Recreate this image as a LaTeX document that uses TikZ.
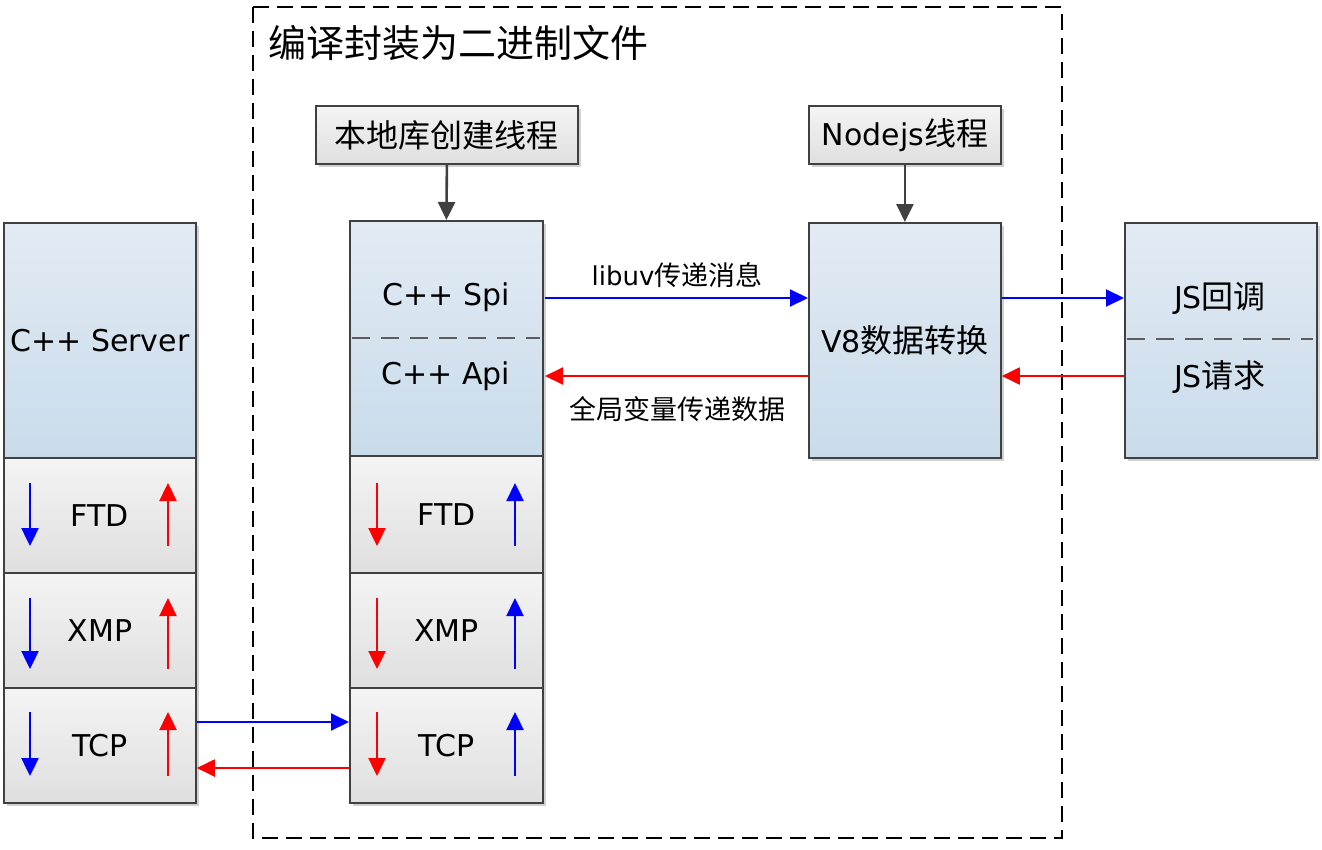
\documentclass[tikz,border=0pt]{standalone}
\usepackage{fontspec}
\setmainfont{DejaVu Sans}
\newfontfamily\cjk{Noto Sans CJK SC}
\newcommand\zh[2][32]{{\fontsize{#1}{#1}\cjk #2}}
\usetikzlibrary{arrows.meta,shadows}
\definecolor{bord}{HTML}{404040}
\definecolor{btop}{HTML}{E2EBF4}
\definecolor{bbot}{HTML}{C9DBEA}
\definecolor{gtop}{HTML}{F4F4F4}
\definecolor{gbot}{HTML}{DFDFDF}
\definecolor{aBlue}{HTML}{0000FF}
\definecolor{aRed}{HTML}{FF0000}
\tikzset{
  shad/.style={drop shadow={shadow xshift=3pt, shadow yshift=-3pt, opacity=0.18, fill=black}},
  bluebox/.style={draw=bord, line width=1.8pt, rectangle, inner sep=0pt, anchor=north west, top color=btop, bottom color=bbot, shad, font=\fontsize{30}{34}\selectfont},
  graybox/.style={draw=bord, line width=1.8pt, rectangle, inner sep=0pt, anchor=north west, top color=gtop, bottom color=gbot, shad, font=\fontsize{30}{34}\selectfont},
  lbl/.style={inner sep=0pt, font=\fontsize{30}{34}\selectfont},
  small/.style={inner sep=0pt, font=\fontsize{26}{30}\selectfont},
  conn/.style={line width=2pt, -{Triangle[length=18pt,width=17pt]}},
  vconn/.style={line width=2.6pt, -{Triangle[length=18pt,width=17pt]}},
  tiny/.style={line width=2.4pt, -{Triangle[length=18pt,width=17pt]}},
  sep/.style={draw=bord!85, line width=1.8pt, dash pattern=on 18pt off 11pt},
}
\begin{document}
\begin{tikzpicture}[x=1pt,y=-1pt]
\useasboundingbox (0,0) rectangle (1322,849);
% outer dashed frame
\draw[black, line width=2.2pt, dash pattern=on 16pt off 8pt] (253,7) rectangle (1062,838);
\node[inner sep=0pt, anchor=west] (title) at (268,43) {\zh[38]{编译封装为二进制文件}};

% left column
\node[bluebox, minimum width=192pt, minimum height=235pt] (srv) at (3,222) {C++ Server};
\node[graybox, minimum width=192pt, minimum height=115pt] (lftd) at (3,457) {FTD};
\node[graybox, minimum width=192pt, minimum height=115pt] (lxmp) at (3,572) {XMP};
\node[graybox, minimum width=192pt, minimum height=115pt] (ltcp) at (3,687) {TCP};

% middle column
\node[bluebox, minimum width=193pt, minimum height=235pt] (cpp) at (349,220) {};
\node[lbl] (spi) at (446,297) {C++ Spi};
\node[lbl] (api) at (446,376) {C++ Api};
\draw[sep] (352,338) -- (540,338);
\node[graybox, minimum width=193pt, minimum height=117pt] (mftd) at (349,455) {FTD};
\node[graybox, minimum width=193pt, minimum height=115pt] (mxmp) at (349,572) {XMP};
\node[graybox, minimum width=193pt, minimum height=115pt] (mtcp) at (349,687) {TCP};

% thread boxes
\node[graybox, minimum width=262pt, minimum height=58pt] (lib) at (315,105) {\zh{本地库创建线程}};
\node[graybox, minimum width=192pt, minimum height=58pt] (nodet) at (808,105) {Nodejs\zh{线程}};

% V8 and JS
\node[bluebox, minimum width=192pt, minimum height=235pt] (v8) at (808,222) {V8\zh{数据转换}};
\node[bluebox, minimum width=192pt, minimum height=235pt] (js) at (1124,222) {};
\node[lbl] (jscb) at (1220,298) {JS\zh{回调}};
\node[lbl] (jsrq) at (1220,377) {JS\zh{请求}};
\draw[sep] (1127,339) -- (1313,339);

% thread arrows
\draw[vconn, bord] (lib.south) -- (cpp.north);
\draw[vconn, bord] (nodet.south) -- (v8.north);

% horizontal connectors
\coordinate (a1s) at (545,298);
\draw[conn, aBlue] (a1s) -- (v8.west |- a1s);
\node[small] (l1) at (677,275) {libuv\zh[27]{传递消息}};
\coordinate (a2e) at (545,376);
\draw[conn, aRed] (v8.west |- a2e) -- (a2e);
\node[small] (l2) at (677,409) {\zh[27]{全局变量传递数据}};
\draw[conn, aBlue] (v8.east |- 0,298) -- (js.west |- 0,298);
\draw[conn, aRed] (js.west |- 0,376) -- (v8.east |- 0,376);
\draw[conn, aBlue] (ltcp.east |- 0,722) -- (mtcp.west |- 0,722);
\draw[conn, aRed] (mtcp.west |- 0,768) -- (ltcp.east |- 0,768);

% small arrows inside layer boxes
\foreach \t/\b in {483/546, 598/669, 712/776}{
  \draw[tiny, aBlue] (30,\t) -- (30,\b);
  \draw[tiny, aRed] (168,\b) -- (168,\t);
  \draw[tiny, aRed] (377,\t) -- (377,\b);
  \draw[tiny, aBlue] (515,\b) -- (515,\t);
}
\end{tikzpicture}
\end{document}
